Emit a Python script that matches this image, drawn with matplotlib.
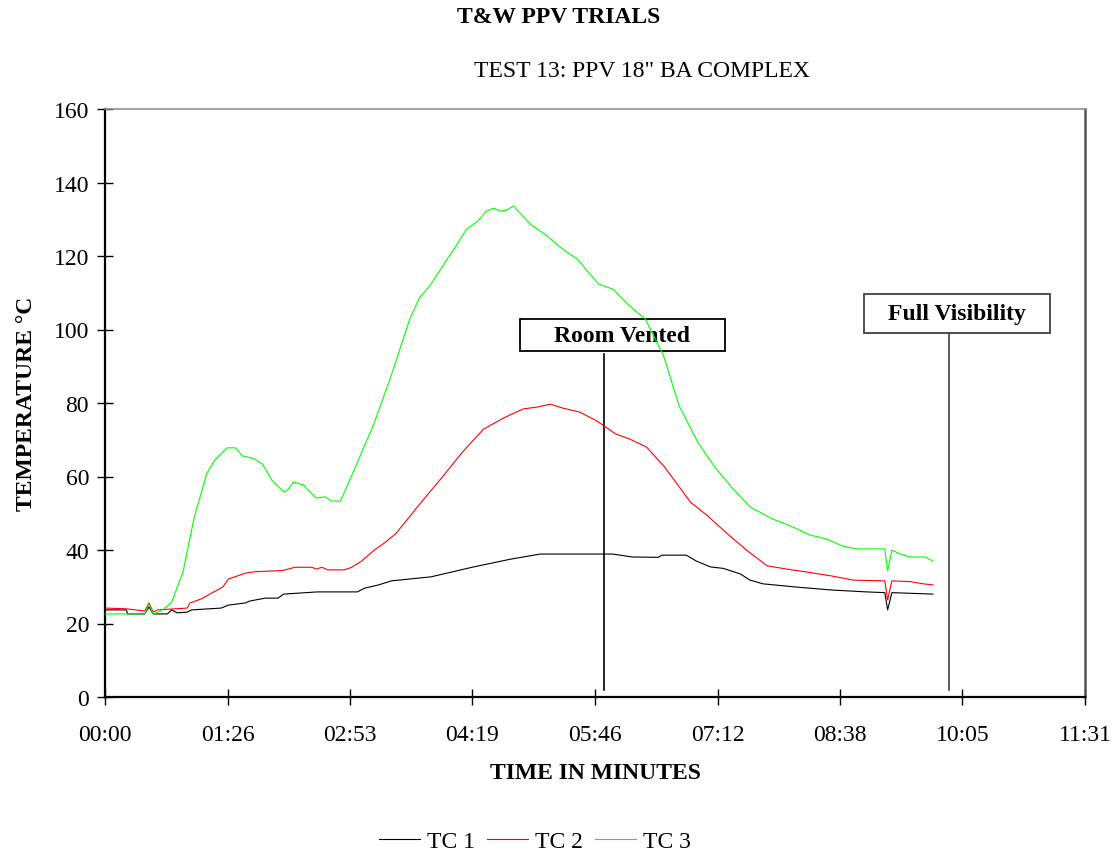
import matplotlib
matplotlib.use("Agg")
import matplotlib.pyplot as plt
from matplotlib.patches import Rectangle

# Zeit in Sekunden, Temperatur in Grad Celsius
tc1_t = [0, 15, 16, 28, 31, 34, 44, 47, 51, 58, 61, 82, 87, 99, 102, 113, 122, 126, 150, 178,
         183, 193, 202, 230, 260, 286, 307, 353, 358, 372, 390, 393, 410, 417, 427, 436, 448,
         455, 464, 488, 513, 537, 550, 552, 555, 584]
tc1_v = [23.7, 23.7, 22.6, 22.6, 24.5, 22.6, 22.6, 23.7, 22.9, 23.1, 23.7, 24.2, 25.0, 25.6, 26.1,
         26.9, 26.9, 28.0, 28.6, 28.6, 29.6, 30.5, 31.6, 32.7, 35.4, 37.5, 38.9, 38.9, 38.9, 38.1,
         38.0, 38.6, 38.6, 37.0, 35.4, 35.0, 33.5, 31.8, 30.8, 29.9, 29.1, 28.6, 28.4, 23.7, 28.4,
         28.0]

tc2_t = [0, 15, 28, 31, 34, 37, 58, 60, 68, 74, 83, 87, 99, 106, 125, 134, 146, 149, 153, 157,
         169, 174, 181, 190, 197, 205, 222, 238, 252, 267, 281, 295, 305, 314, 323, 335, 347, 353,
         360, 370, 382, 394, 401, 413, 425, 439, 453, 467, 481, 495, 513, 528, 550, 552, 555, 568,
         577, 584]
tc2_v = [24.2, 24.0, 23.4, 25.6, 23.1, 23.7, 24.2, 25.6, 26.7, 28.0, 29.9, 32.1, 33.7, 34.1, 34.4,
         35.3, 35.3, 34.8, 35.3, 34.6, 34.6, 35.3, 37.0, 40.0, 41.9, 44.4, 52.5, 59.9, 66.6, 72.9,
         75.9, 78.4, 78.9, 79.7, 78.6, 77.5, 75.1, 73.5, 71.6, 70.2, 68.0, 62.9, 59.3, 53.0, 49.3,
         44.4, 39.8, 35.7, 34.8, 34.0, 32.9, 31.8, 31.6, 26.4, 31.6, 31.4, 30.8, 30.5]

tc3_t = [0, 28, 31, 34, 40, 47, 55, 63, 72, 78, 86, 92, 97, 104, 111, 118, 126, 128, 133, 140,
         149, 155, 160, 166, 173, 181, 189, 201, 215, 222, 229, 240, 247, 255, 263, 269, 274, 279,
         283, 288, 300, 312, 321, 333, 348, 358, 370, 381, 394, 405, 418, 430, 443, 455, 471, 485,
         497, 509, 520, 530, 550, 552, 555, 561, 568, 578, 584]
tc3_v = [22.6, 22.6, 25.3, 22.6, 23.5, 25.8, 34.0, 49.0, 61.0, 64.8, 67.8, 67.8, 65.6, 65.0, 63.4,
         58.8, 55.8, 56.0, 58.5, 57.7, 54.1, 54.5, 53.3, 53.3, 59.3, 66.6, 73.7, 86.5, 102.9, 108.8,
         111.8, 118.4, 122.4, 127.3, 129.5, 132.2, 133.0, 132.2, 132.5, 133.6, 128.7, 125.4, 122.4,
         119.2, 112.4, 111.0, 106.4, 102.9, 92.8, 79.2, 69.4, 62.6, 56.6, 51.7, 48.4, 46.3, 44.1,
         43.0, 41.1, 40.3, 40.3, 34.3, 40.0, 38.9, 38.1, 38.1, 37.0]

series_names = ["TC 1", "TC 2", "TC 3"]
series_colors = ["#000000", "#ff0000", "#00ff00"]

x_ticks = [0, 86.4, 172.8, 259.2, 345.6, 432.0, 518.4, 604.8, 691.2]
x_tick_labels = ["00:00", "01:26", "02:53", "04:19", "05:46", "07:12", "08:38", "10:05", "11:31"]
y_ticks = [0, 20, 40, 60, 80, 100, 120, 140, 160]

# Ereignisse: (Text, Zeitpunkt der Linie, Box x0, Box x1, Box y0, Box y1, Linie oben, Farbe)
events = [
    ("Room Vented", 352, 292.7, 437.2, 94.1, 102.9, 93.4, "#000000"),
    ("Full Visibility", 595.2, 535.3, 666.4, 99.0, 109.7, 99.0, "#404040"),
]

plt.rcParams['font.family'] = ['Liberation Serif', 'DejaVu Serif']
plt.rcParams['font.size'] = 17

fig = plt.figure(figsize=(11.17, 8.54), dpi=100)
ax = fig.add_axes([105 / 1117, 1 - 698 / 854, 980 / 1117, 588 / 854])

for t, v, name, col in zip([tc1_t, tc2_t, tc3_t], [tc1_v, tc2_v, tc3_v], series_names, series_colors):
    ax.plot(t, v, color=col, lw=0.8, label=name, zorder=3)

# Markierungen
for text, tx, bx0, bx1, by0, by1, ltop, col in events:
    ax.plot([tx, tx], [2.0, ltop], color=col, lw=1.2, zorder=2)
    ax.add_patch(Rectangle((bx0, by0), bx1 - bx0, by1 - by0, fill=False, ec=col, lw=1.3, zorder=2))
    ax.text((bx0 + bx1) / 2, (by0 + by1) / 2, text, ha='center', va='center',
            fontweight='bold', fontsize=17, zorder=2)

ax.set_xlim(0, 691.2)
ax.set_ylim(0, 160)
ax.set_xticks(x_ticks)
ax.set_xticklabels(x_tick_labels)
ax.set_yticks(y_ticks)
ax.tick_params(axis='both', direction='inout', length=11, width=1, color='black')
ax.tick_params(axis='x', pad=14)
ax.tick_params(axis='y', pad=6)

ax.spines['left'].set_linewidth(1.6)
ax.spines['bottom'].set_linewidth(1.6)
ax.spines['top'].set_color('#909090')
ax.spines['top'].set_linewidth(1.2)
ax.spines['right'].set_color('#555555')
ax.spines['right'].set_linewidth(1.8)

ax.set_xlabel('TIME IN MINUTES', fontweight='bold', labelpad=12)
ax.set_ylabel('TEMPERATURE \u00b0C', fontweight='bold', labelpad=12)

fig.text(0.5, 0.979, 'T&W PPV TRIALS', ha='center', va='center', fontweight='bold', fontsize=17)
fig.text(0.575, 0.916, 'TEST 13: PPV 18" BA COMPLEX', ha='center', va='center', fontsize=17)

fig.legend(loc='center', bbox_to_anchor=(0.479, 0.014), ncol=3, frameon=False,
           handlelength=1.75, handletextpad=0.3, columnspacing=0.5, fontsize=17)

fig.savefig('out.png', dpi=100)
